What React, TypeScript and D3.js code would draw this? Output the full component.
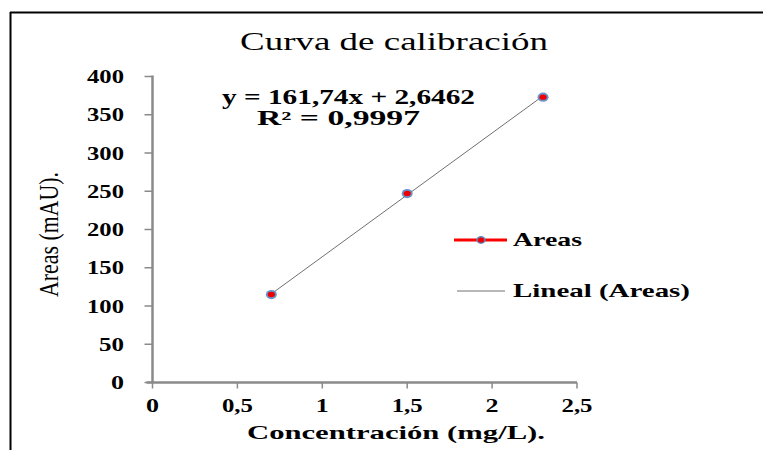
import React from "react";
import * as d3 from "d3";

const concentrations = [0.7, 1.5, 2.3];
const areas = [115, 247, 373];
const xTicks = [0, 0.5, 1, 1.5, 2, 2.5];
const yTicks = [0, 50, 100, 150, 200, 250, 300, 350, 400];
const slope = 161.74;
const intercept = 2.6462;
const equationLabel = "y = 161,74x + 2,6462";
const r2Label = "R² = 0,9997";

const fmt = (v: number) => String(v).replace(".", ",");

export default function App() {
  const W = 763;
  const H = 450;
  const x = d3.scaleLinear().domain([0, 2.5]).range([152.5, 577]);
  const y = d3.scaleLinear().domain([0, 400]).range([382.5, 76.5]);
  const font = "Liberation Serif, Times New Roman, serif";
  const axisColor = "#8a8a8a";

  const xMin = d3.min(concentrations)!;
  const xMax = d3.max(concentrations)!;
  const trend = d3.line<number>()
    .x((d) => x(d))
    .y((d) => y(slope * d + intercept));

  const bold = { fontFamily: font, fontWeight: 700, fill: "#000" } as const;
  // width of a bold numeric label, digits drawn wide like the chart's serif face
  const numWidth = (s: string) =>
    s.split("").reduce((w, ch) => w + (ch === "," ? 6 : 12), 0) + 1;

  return (
    <svg
      width={W}
      height={H}
      style={{ position: "absolute", left: 0, top: 0, background: "#fff" }}
    >
      {/* outer frame (top and left edges) */}
      <line x1={10} y1={12.5} x2={W} y2={12.5} stroke="#000" strokeWidth={2} />
      <line x1={10.5} y1={12} x2={10.5} y2={H} stroke="#000" strokeWidth={2} />

      <text x={240} y={50} fontFamily={font} fontSize={25} textLength={308} lengthAdjust="spacingAndGlyphs" fill="#000">
        Curva de calibración
      </text>

      {/* axes */}
      <line x1={x(0)} y1={y(400) - 1} x2={x(0)} y2={y(0)} stroke={axisColor} strokeWidth={2.5} />
      <line x1={x(0) - 6} y1={y(0)} x2={x(2.5)} y2={y(0)} stroke={axisColor} strokeWidth={2.5} />
      {yTicks.map((t) => {
        const s = String(t);
        const w = numWidth(s);
        return (
          <g key={"y" + t}>
            <line x1={x(0) - 8} x2={x(0)} y1={y(t)} y2={y(t)} stroke={axisColor} strokeWidth={1.5} />
            <text x={124 - w} y={y(t) + 6.5} fontSize={19} textLength={w} lengthAdjust="spacingAndGlyphs" {...bold}>
              {s}
            </text>
          </g>
        );
      })}
      {xTicks.map((t) => {
        const s = fmt(t);
        const w = numWidth(s);
        return (
          <g key={"x" + t}>
            <line x1={x(t)} x2={x(t)} y1={y(0)} y2={y(0) + 6} stroke={axisColor} strokeWidth={1.5} />
            <text x={x(t) - w / 2} y={412} fontSize={19} textLength={w} lengthAdjust="spacingAndGlyphs" {...bold}>
              {s}
            </text>
          </g>
        );
      })}

      <text
        transform="translate(58, 297) rotate(-90)"
        fontFamily={font}
        fontSize={28}
        textLength={125}
        lengthAdjust="spacingAndGlyphs"
        fill="#000"
      >
        Areas (mAU).
      </text>
      <text x={247} y={439} fontSize={19} textLength={298} lengthAdjust="spacingAndGlyphs" {...bold}>
        Concentración (mg/L).
      </text>

      {/* linear trendline */}
      <path d={trend([xMin, xMax]) || ""} fill="none" stroke="#707070" strokeWidth={1} />

      {/* data markers */}
      {concentrations.map((c, i) => (
        <g key={"p" + i}>
          <ellipse cx={x(c)} cy={y(areas[i])} rx={5.5} ry={4.6} fill="#5b87c5" opacity={0.9} />
          <ellipse cx={x(c)} cy={y(areas[i])} rx={3.6} ry={2.7} fill="#ee0000" />
        </g>
      ))}

      <text x={222} y={104} fontSize={20} textLength={253} lengthAdjust="spacingAndGlyphs" {...bold}>
        {equationLabel}
      </text>
      <text x={257} y={125} fontSize={20} textLength={163} lengthAdjust="spacingAndGlyphs" {...bold}>
        {r2Label}
      </text>

      {/* legend */}
      <line x1={454} x2={507} y1={240} y2={240} stroke="#ff0000" strokeWidth={3} />
      <ellipse cx={481} cy={240} rx={4.6} ry={3.9} fill="#5b87c5" />
      <ellipse cx={481} cy={240} rx={3.1} ry={2.6} fill="#ee0000" />
      <text x={513} y={246} fontSize={19} textLength={69} lengthAdjust="spacingAndGlyphs" {...bold}>
        Areas
      </text>
      <line x1={457} x2={505} y1={291} y2={291} stroke="#707070" strokeWidth={1} />
      <text x={513} y={297} fontSize={19} textLength={177} lengthAdjust="spacingAndGlyphs" {...bold}>
        Lineal (Areas)
      </text>
    </svg>
  );
}
